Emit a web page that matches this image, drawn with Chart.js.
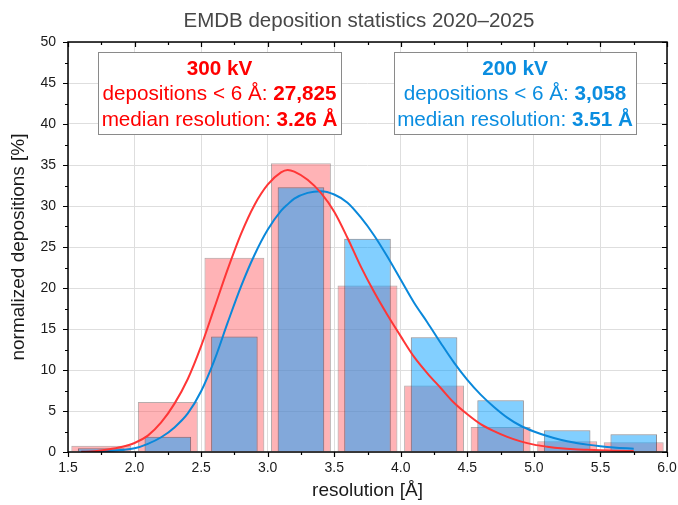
<!DOCTYPE html>
<html>
<head>
<meta charset="utf-8">
<script src="https://cdn.jsdelivr.net/npm/chart.js@4.4.1/dist/chart.umd.min.js"></script>
<style>
  html, body { margin: 0; padding: 0; background: #fff; }
  #wrap { width: 678px; height: 505px; position: relative; }
</style>
</head>
<body>
<div id="wrap"><canvas id="chart"></canvas></div>
<script>
// Resolution bins (Å), one bar per 0.5 Å bin, placed at the bin centre
const binCenters = [1.75, 2.25, 2.75, 3.25, 3.75, 4.25, 4.75, 5.25, 5.75];
// Share of depositions per bin [%]
const pct300kV = [0.75, 6.1, 23.7, 35.2, 20.3, 8.1, 3.05, 1.3, 1.2];
const pct200kV = [0.45, 1.85, 14.1, 32.3, 26.0, 14.0, 6.3, 2.65, 2.15];

// Fitted distributions, sampled along the resolution axis
const fitRes   = [1.6, 1.7, 1.8, 1.9, 2.0, 2.1, 2.2, 2.3, 2.4, 2.5, 2.6, 2.7, 2.8, 2.9, 3.0, 3.1, 3.15, 3.2, 3.3, 3.4, 3.5,
                  3.6, 3.7, 3.8, 3.9, 4.0, 4.1, 4.2, 4.3, 4.4, 4.5, 4.6, 4.7, 4.8, 4.9, 5.0, 5.1, 5.2, 5.3, 5.4, 5.5, 5.6, 5.75];
const fit300kV = [0.02, 0.1, 0.3, 0.6, 1.1, 2.0, 3.6, 5.9, 8.9, 12.9, 17.6, 22.3, 26.6, 30.1, 32.6, 34.1, 34.4, 34.2, 33.2, 31.6, 29.3,
                  26.1, 22.6, 19.5, 16.7, 14.1, 11.6, 9.6, 7.8, 6.0, 4.6, 3.4, 2.55, 1.85, 1.3, 0.9, 0.65, 0.45, 0.33, 0.26, 0.2, 0.16, 0.12];
const fit200kV = [0.02, 0.05, 0.12, 0.25, 0.45, 1.0, 1.8, 3.0, 4.7, 7.4, 11.2, 15.8, 20.2, 24.0, 27.1, 29.4, 30.2, 30.9, 31.6, 31.8, 31.4,
                  30.4, 28.6, 26.4, 23.8, 21.0, 18.2, 15.8, 13.3, 10.9, 8.8, 7.0, 5.5, 4.2, 3.2, 2.5, 1.95, 1.5, 1.15, 0.9, 0.7, 0.55, 0.4];

// Axis ranges and tick spacing
const xRange = [1.5, 6.0];
const yRange = [0, 50];
const xStep = 0.5, yStep = 5;

// Texts
const chartTitle = 'EMDB deposition statistics 2020\u20132025';
const xTitle = 'resolution [\u00c5]';
const yTitle = 'normalized depositions [%]';
const info300 = [[['300 kV', true]],
                 [['depositions < 6 \u00c5: ', false], ['27,825', true]],
                 [['median resolution: ', false], ['3.26 \u00c5', true]]];
const info200 = [[['200 kV', true]],
                 [['depositions < 6 \u00c5: ', false], ['3,058', true]],
                 [['median resolution: ', false], ['3.51 \u00c5', true]]];

const FONT = '"Liberation Sans", Arial, Helvetica, sans-serif';
const RED = '#ff0000', BLUE = '#0a8de0';
const RED_LINE = '#ff3636', BLUE_LINE = '#0a88da';

Chart.defaults.font.family = FONT;
Chart.defaults.color = '#1a1a1a';

const toPoints = (xs, ys) => xs.map((x, i) => ({ x: x, y: ys[i] }));

// Frame, tick marks, axis titles, chart title and the two summary boxes
const decorations = {
  id: 'decorations',
  afterDatasetsDraw(chart) {
    const { ctx, chartArea: a, scales: { x, y } } = chart;
    ctx.save();

    // frame
    ctx.strokeStyle = '#000';
    ctx.lineWidth = 1.5;
    ctx.strokeRect(a.left, a.top, a.right - a.left, a.bottom - a.top);

    // tick marks: outward on bottom/left, inward on top/right
    ctx.lineWidth = 1.2;
    ctx.beginPath();
    for (let v = xRange[0]; v <= xRange[1] + 1e-9; v += xStep / 2) {
      const major = Math.abs(v / xStep - Math.round(v / xStep)) < 1e-6;
      const len = major ? 5 : 3;
      const px = Math.round(x.getPixelForValue(v)) + 0.5;
      ctx.moveTo(px, a.bottom); ctx.lineTo(px, a.bottom + len);
      ctx.moveTo(px, a.top); ctx.lineTo(px, a.top + len);
    }
    for (let v = yRange[0]; v <= yRange[1] + 1e-9; v += yStep / 2) {
      const major = Math.abs(v / yStep - Math.round(v / yStep)) < 1e-6;
      const len = major ? 5 : 3;
      const py = Math.round(y.getPixelForValue(v)) + 0.5;
      ctx.moveTo(a.left, py); ctx.lineTo(a.left - len, py);
      ctx.moveTo(a.right, py); ctx.lineTo(a.right - len, py);
    }
    ctx.stroke();

    // chart title
    ctx.fillStyle = '#474747';
    ctx.font = '20.5px ' + FONT;
    ctx.textAlign = 'center';
    ctx.textBaseline = 'middle';
    ctx.fillText(chartTitle, 359, 21);

    // axis titles
    ctx.fillStyle = '#1a1a1a';
    ctx.font = '19px ' + FONT;
    ctx.fillText(xTitle, (a.left + a.right) / 2, 491);
    ctx.save();
    ctx.translate(19, (a.top + a.bottom) / 2);
    ctx.rotate(-Math.PI / 2);
    ctx.fillText(yTitle, 0, 0);
    ctx.restore();

    // summary boxes
    const drawBox = (x0, x1, y0, y1, lines, color) => {
      ctx.fillStyle = '#fff';
      ctx.fillRect(x0, y0, x1 - x0, y1 - y0);
      ctx.strokeStyle = '#8a8a8a';
      ctx.lineWidth = 1;
      ctx.strokeRect(x0 + 0.5, y0 + 0.5, x1 - x0, y1 - y0);
      ctx.fillStyle = color;
      ctx.textAlign = 'left';
      ctx.textBaseline = 'middle';
      const cx = (x0 + x1) / 2;
      lines.forEach((segs, i) => {
        let total = 0;
        segs.forEach(([t, b]) => { ctx.font = (b ? 'bold ' : '') + '20.7px ' + FONT; total += ctx.measureText(t).width; });
        let px = cx - total / 2;
        const py = y0 + 17 + i * 25.5;
        segs.forEach(([t, b]) => {
          ctx.font = (b ? 'bold ' : '') + '20.7px ' + FONT;
          ctx.fillText(t, px, py);
          px += ctx.measureText(t).width;
        });
      });
    };
    drawBox(98, 341, 52, 134, info300, RED);
    drawBox(394, 636, 52, 134, info200, BLUE);

    ctx.restore();
  }
};

new Chart(document.getElementById('chart'), {
  data: {
    datasets: [
      {
        type: 'line', label: '300 kV fit', data: toPoints(fitRes, fit300kV),
        borderColor: RED_LINE, borderWidth: 2, pointRadius: 0, fill: false,
        cubicInterpolationMode: 'monotone', order: 0
      },
      {
        type: 'line', label: '200 kV fit', data: toPoints(fitRes, fit200kV),
        borderColor: BLUE_LINE, borderWidth: 2, pointRadius: 0, fill: false,
        cubicInterpolationMode: 'monotone', order: 0
      },
      {
        type: 'bar', label: '200 kV', data: toPoints(binCenters, pct200kV),
        backgroundColor: 'rgba(0, 157, 255, 0.49)', borderColor: 'rgba(50, 50, 60, 0.55)',
        borderWidth: 1, barPercentage: 0.7, categoryPercentage: 1, grouped: false, order: 1
      },
      {
        type: 'bar', label: '300 kV', data: toPoints(binCenters, pct300kV),
        backgroundColor: 'rgba(255, 90, 95, 0.46)', borderColor: 'rgba(110, 90, 90, 0.5)',
        borderWidth: 1, barPercentage: 0.9, categoryPercentage: 1, grouped: false, order: 2
      }
    ]
  },
  options: {
    responsive: true,
    maintainAspectRatio: false,
    animation: false,
    layout: { padding: { left: 0, right: 0, top: 42, bottom: 0 } },
    plugins: { legend: { display: false }, tooltip: { enabled: false }, title: { display: false } },
    scales: {
      x: {
        type: 'linear', min: xRange[0], max: xRange[1], offset: false,
        ticks: { stepSize: xStep, padding: 8, font: { size: 14 }, color: '#1a1a1a',
                 callback: v => v.toFixed(1) },
        grid: { color: '#dedede', lineWidth: 1, drawTicks: false, offset: false },
        border: { display: false },
        afterFit: s => { s.height = 53; s.paddingLeft = 0; s.paddingRight = 11; }
      },
      y: {
        type: 'linear', min: yRange[0], max: yRange[1],
        ticks: { stepSize: yStep, padding: 12, font: { size: 14 }, color: '#1a1a1a' },
        grid: { color: '#dedede', lineWidth: 1, drawTicks: false },
        border: { display: false },
        afterFit: s => { s.width = 68; s.paddingTop = 0; s.paddingBottom = 0; }
      }
    }
  },
  plugins: [decorations]
});
</script>
</body>
</html>
